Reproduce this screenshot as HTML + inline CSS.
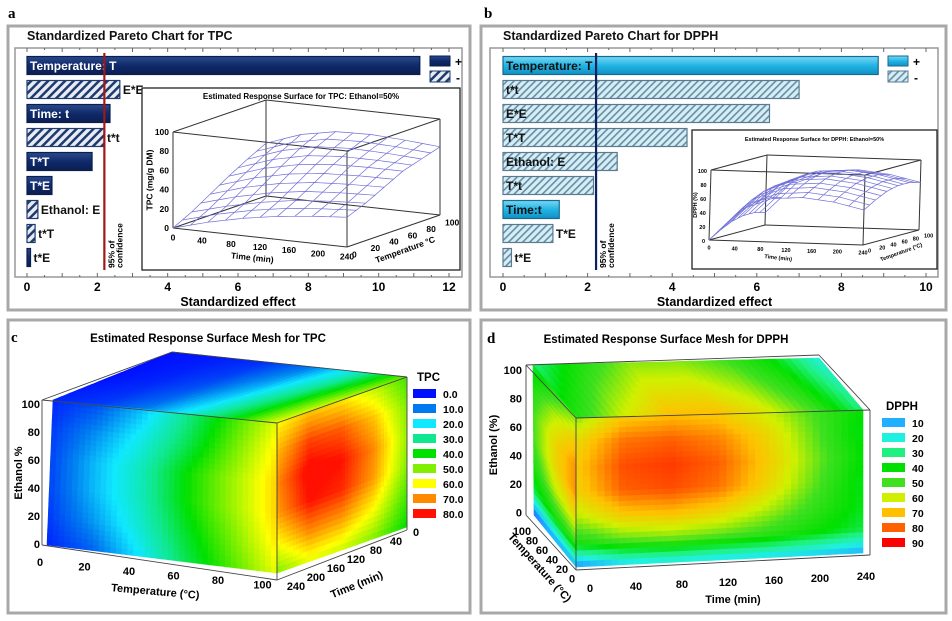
<!DOCTYPE html>
<html><head><meta charset="utf-8"><style>
html,body{margin:0;padding:0;background:#fff;}
svg{display:block;font-family:"Liberation Sans",sans-serif;}
</style></head><body>
<svg id="fig" width="952" height="621" viewBox="0 0 952 621" xmlns="http://www.w3.org/2000/svg">
<defs>
<pattern id="hatchA" width="6" height="6" patternUnits="userSpaceOnUse" patternTransform="rotate(45)"><rect width="6" height="6" fill="#e8ecf2"/><rect width="2.5" height="6" fill="#1e3a6e"/></pattern>
<pattern id="hatchB" width="5" height="5" patternUnits="userSpaceOnUse" patternTransform="rotate(45)"><rect width="5" height="5" fill="#d4eef8"/><rect width="1.6" height="5" fill="#6a8ca0"/></pattern>
<linearGradient id="navy" x1="0" y1="0" x2="0" y2="1"><stop offset="0" stop-color="#2a4a8c"/><stop offset="0.5" stop-color="#102a6a"/><stop offset="1" stop-color="#0a1e50"/></linearGradient>
<linearGradient id="cyan" x1="0" y1="0" x2="0" y2="1"><stop offset="0" stop-color="#7ad8f4"/><stop offset="0.5" stop-color="#22b4e4"/><stop offset="1" stop-color="#1090c4"/></linearGradient>
</defs>
<g>
<rect x="8" y="26" width="462" height="284" fill="#fff" stroke="#a8a8a8" stroke-width="3"/>
<rect x="481" y="26" width="465" height="284" fill="#fff" stroke="#a8a8a8" stroke-width="3"/>
<rect x="8" y="320" width="462" height="293" fill="#fff" stroke="#a8a8a8" stroke-width="3"/>
<rect x="481" y="320" width="465" height="293" fill="#fff" stroke="#a8a8a8" stroke-width="3"/>
</g>
<g font-family="Liberation Serif,serif" font-weight="bold" font-size="15" fill="#000">
<text x="8" y="18">a</text>
<text x="484" y="18">b</text>
<text x="11" y="342">c</text>
<text x="487" y="343">d</text>
</g>
<g id="gA"></g><g id="gB"></g><g id="gC"></g><g id="gD"></g>
</svg>
<script>
// ---- Pareto data ----
const paretoA_labels = ["Temperature: T","E*E","Time: t","t*t","T*T","T*E","Ethanol: E","t*T","t*E"];
const paretoA_values = [11.17,2.64,2.36,2.19,1.85,0.71,0.31,0.23,0.1];
const paretoA_signs  = ["+","-","+","-","+","+","-","-","+"];
const paretoA_ticks = [0,2,4,6,8,10,12];
const paretoA_conf = 2.2;
const paretoB_labels = ["Temperature: T","t*t","E*E","T*T","Ethanol: E","T*t","Time:t","T*E","t*E"];
const paretoB_values = [8.87,7.0,6.3,4.35,2.7,2.14,1.33,1.18,0.2];
const paretoB_signs  = ["+","-","-","-","-","-","+","-","-"];
const paretoB_ticks = [0,2,4,6,8,10];
const paretoB_conf = 2.2;
// ---- inset surfaces (rows: temperature 0..100, cols: time 0..240) ----
const insetTimes = [0,48,96,144,192,240];
const insetTemps = [0,20,40,60,80,100];
const insetA_z = [[0,10,18,24,28,31],[10,20,28,34,37,39],[22,33,41,46,48,49],[34,46,54,58,59,59],[45,58,66,68,67,65],[55,68,75,76,74,71]];
const insetB_z = [[0,45,62,65,60,50],[10,55,72,75,70,60],[18,62,80,83,78,68],[22,66,84,87,82,72],[22,66,84,87,82,72],[18,62,80,83,78,68]];
// ---- cube face values ----
const tpcLegend = [0,10,20,30,40,50,60,70,80];
const tpcColors = ["#0010ff","#0078f0","#10e8ff","#10e890","#00e000","#80f000","#ffff00","#ff8a00","#ff1000"];
const tpcTop = [[0,1,3,10,25,48],[0,2,6,16,32,55],[2,4,10,22,38,58]];
const tpcFront = [[2,6,16,30,44,58],[4,12,22,34,48,62],[5,16,26,40,52,64],[5,16,26,40,52,64],[4,13,24,37,49,62],[2,8,20,34,46,58]];
const tpcRight = [[60,65,62,55,45],[66,76,74,65,50],[70,82,80,70,52],[68,80,78,68,50],[60,70,68,60,45],[50,58,56,50,40]];
const dpphLegend = [0,10,20,30,40,50,60,70,80,90];
const dpphColors = ["#2030ff","#20b0ff","#20f0e0","#20f080","#00e000","#40e020","#d0f000","#ffc000","#ff6000","#ff0000"];
const dpphTop = [[30,45,55,55,50,40,20],[45,60,70,70,62,50,30]];
const dpphLeft = [[35,45,55],[45,58,68],[50,65,75],[50,65,75],[45,58,65],[35,45,50],[3,8,10]];
const dpphFront = [[55,68,70,68,60,50,40],[65,78,80,76,66,52,38],[68,82,84,80,68,54,40],[66,80,82,78,66,52,38],[58,68,70,66,58,48,38],[45,52,54,52,48,42,35],[5,15,18,16,16,14,10]];

const NS="http://www.w3.org/2000/svg";
function el(parent,tag,attrs,text){const e=document.createElementNS(NS,tag);for(const k in attrs)e.setAttribute(k,attrs[k]);if(text!==undefined)e.textContent=text;parent.appendChild(e);return e;}

function pareto(g,cfg){
  const {labels,values,signs,ticks,conf,x0,x1,vmax,plot,title,posFill,negFill,legX,lineColor,textInside,darkText}=cfg;
  const sx=v=>x0+(x1-x0)*v/vmax;
  let t=el(g,'text',{x:cfg.titleX,y:40,'font-size':'12.5','font-weight':'bold',fill:'#111'},title);
  
  let r=el(g,'rect',{x:plot[0],y:plot[1],width:plot[2]-plot[0],height:plot[3]-plot[1],fill:'none',stroke:'#999','stroke-width':1.5});
  
  for(let v=0;v<=vmax+1e-9;v+=0.5){const x=sx(v);const L=(Math.abs(v-Math.round(v))<1e-9)?4:2;
    el(g,'line',{x1:x,x2:x,y1:plot[3],y2:plot[3]-L,stroke:'#666'});el(g,'line',{x1:x,x2:x,y1:plot[1],y2:plot[1]+L,stroke:'#666'});}
  ticks.forEach(v=>{const tt=el(g,'text',{x:sx(v),y:291,'text-anchor':'middle','font-size':'12','font-weight':'bold'},String(v));
    });
  const xt=el(g,'text',{x:(x0+x1)/2,y:306,'text-anchor':'middle','font-size':'12.5','font-weight':'bold'},'Standardized effect');
  
  labels.forEach((lab,i)=>{
    const cy=65.5+i*24, h=18;
    const w=Math.max(sx(values[i])-x0,2);
    const b=el(g,'rect',{x:x0,y:cy-h/2,width:w,height:h,fill:signs[i]=='+'?posFill:negFill,stroke:signs[i]=='+'?cfg.posStroke:cfg.negStroke,'stroke-width':1.2});
    
    
    const inside=textInside[i];
    const tx=inside?x0+3:x0+w+3;
    const col=(inside&&signs[i]=='+'&&!darkText)?'#fff':'#111';
    const lt=el(g,'text',{x:tx,y:cy+4.5,'font-size':'12','font-weight':'bold',fill:col},lab);
    
  });
  const cx=sx(conf);
  const cl=el(g,'line',{x1:cx,x2:cx,y1:53,y2:270,stroke:lineColor,'stroke-width':2.2});
  
  const ct=el(g,'text',{transform:`translate(${cx+10},268) rotate(-90)`,'font-size':'8.5','font-weight':'bold'});
  el(ct,'tspan',{x:0,dy:0},'95% of');el(ct,'tspan',{x:0,dy:8},'confidence');
  
  const l1=el(g,'rect',{x:legX,y:56,width:20,height:10,fill:posFill,stroke:cfg.posStroke});
  
  const l2=el(g,'rect',{x:legX,y:71,width:20,height:11,fill:negFill,stroke:cfg.negStroke});
  
  el(g,'text',{x:legX+25,y:66,'font-size':'12','font-weight':'bold'},'+');
  el(g,'text',{x:legX+26,y:82,'font-size':'12','font-weight':'bold'},'-');
}
pareto(document.getElementById('gA'),{labels:paretoA_labels,values:paretoA_values,signs:paretoA_signs,ticks:paretoA_ticks,conf:paretoA_conf,
  x0:27,x1:449,vmax:12,plot:[15,48,462,277],title:'Standardized Pareto Chart for TPC',titleX:27,posFill:'url(#navy)',negFill:'url(#hatchA)',posStroke:'#0a1e50',negStroke:'#1e3a6e',
  legX:430,lineColor:'#a01818',textInside:[1,0,1,0,1,1,0,0,0]});
pareto(document.getElementById('gB'),{labels:paretoB_labels,values:paretoB_values,signs:paretoB_signs,ticks:paretoB_ticks,conf:paretoB_conf,
  x0:503,x1:926,vmax:10,plot:[490,48,938,277],title:'Standardized  Pareto  Chart  for  DPPH',titleX:503,posFill:'url(#cyan)',negFill:'url(#hatchB)',posStroke:'#1a6a90',negStroke:'#5a7a90',
  legX:888,lineColor:'#0a2060',textInside:[1,1,1,1,1,1,1,0,0],darkText:true});

// ---- insets ----
function inset(g,cfg){
  const {box,base,tv,Tv,zv,z,title,fs,color}=cfg;
  const r=el(g,'rect',{x:box[0],y:box[1],width:box[2]-box[0],height:box[3]-box[1],fill:'#fff',stroke:'#222','stroke-width':1.3});
  
  const tt=el(g,'text',{x:(box[0]+box[2])/2,y:box[1]+11,'text-anchor':'middle','font-size':fs,'font-weight':'bold'},title);
  
  const P=(t,T,zz)=>[base[0]+t/240*tv[0]+T/100*Tv[0]+zz/100*zv[0], base[1]+t/240*tv[1]+T/100*Tv[1]+zz/100*zv[1]];
  const ln=(a,b,c)=>el(g,'line',{x1:a[0],y1:a[1],x2:b[0],y2:b[1],stroke:c||'#333','stroke-width':1});
  const C=[[0,0],[240,0],[240,100],[0,100]];
  for(let i=0;i<4;i++){const a=C[i],b=C[(i+1)%4];ln(P(a[0],a[1],0),P(b[0],b[1],0));ln(P(a[0],a[1],100),P(b[0],b[1],100));ln(P(a[0],a[1],0),P(a[0],a[1],100));}
  // bilinear lookup on data grid for smooth mesh rendering
  const Z=(u,v)=>{const fx=u*(insetTimes.length-1),fy=v*(insetTemps.length-1);const j=Math.min(Math.floor(fx),insetTimes.length-2),i=Math.min(Math.floor(fy),insetTemps.length-2);
    const ax=fx-j,ay=fy-i;return (z[i][j]*(1-ax)+z[i][j+1]*ax)*(1-ay)+(z[i+1][j]*(1-ax)+z[i+1][j+1]*ax)*ay;};
  const N=10,S=30;
  for(let a=0;a<=N;a++){let d='';for(let b=0;b<=S;b++){const u=b/S,v=a/N;const p=P(u*240,v*100,Z(u,v));d+=(b?'L':'M')+p[0].toFixed(1)+','+p[1].toFixed(1);}
    const m=el(g,'path',{d,fill:'none',stroke:color,'stroke-width':0.7});}
  for(let a=0;a<=N;a++){let d='';for(let b=0;b<=S;b++){const u=a/N,v=b/S;const p=P(u*240,v*100,Z(u,v));d+=(b?'L':'M')+p[0].toFixed(1)+','+p[1].toFixed(1);}
    const m=el(g,'path',{d,fill:'none',stroke:color,'stroke-width':0.7});}
  const f=cfg.lfs;
  [0,20,40,60,80,100].forEach(v=>{const p=P(0,0,v);el(g,'text',{x:p[0]-4,y:p[1]+3,'text-anchor':'end','font-size':f,'font-weight':'bold'},String(v));});
  [0,40,80,120,160,200,240].forEach(v=>{const p=P(v,0,0);el(g,'text',{x:p[0],y:p[1]+f+4,'text-anchor':'middle','font-size':f,'font-weight':'bold'},String(v));});
  [0,20,40,60,80,100].forEach(v=>{const p=P(240,v,0);el(g,'text',{x:p[0]+5,y:p[1]+f+2,'font-size':f,'font-weight':'bold'},String(v));});
  const pt=P(120,0,0);el(g,'text',{transform:`translate(${pt[0]-8},${pt[1]+2*f+6}) rotate(6)`,'text-anchor':'middle','font-size':f,'font-weight':'bold'},'Time (min)');
  const pT=P(240,55,0);el(g,'text',{transform:`translate(${pT[0]+8},${pT[1]+2*f+6}) rotate(-20)`,'text-anchor':'middle','font-size':f,'font-weight':'bold'},cfg.tempLabel);
  const pz=P(0,0,50);el(g,'text',{transform:`translate(${pz[0]-f*2.4},${pz[1]}) rotate(-90)`,'text-anchor':'middle','font-size':f,'font-weight':'bold'},cfg.zLabel);
}
inset(document.getElementById('gA'),{box:[142,88,460,270],base:[173,228],tv:[174,19],Tv:[93,-32],zv:[0,-96],z:insetA_z,title:'Estimated Response Surface for TPC: Ethanol=50%',fs:8,lfs:8.5,color:'#7070d8',tempLabel:'Temperature °C',zLabel:'TPC (mg/g DM)'});
inset(document.getElementById('gB'),{box:[692,130,937,269],base:[709,240],tv:[154,5],Tv:[56,-15],zv:[2,-70],z:insetB_z,title:'Estimated Response Surface for DPPH: Ethanol=50%',fs:5.5,lfs:5.5,color:'#7070d8',tempLabel:'Temperature (°C)',zLabel:'DPPH (%)'});

// ---- cubes ----
function cmap(stops,cols,v){
  const hex=c=>[parseInt(c.slice(1,3),16),parseInt(c.slice(3,5),16),parseInt(c.slice(5,7),16)];
  if(v<=stops[0])return cols[0];if(v>=stops[stops.length-1])return cols[cols.length-1];
  for(let i=0;i<stops.length-1;i++){if(v<=stops[i+1]){const f=(v-stops[i])/(stops[i+1]-stops[i]);const a=hex(cols[i]),b=hex(cols[i+1]);
    return 'rgb('+a.map((x,k)=>Math.round(x+(b[k]-x)*f)).join(',')+')';}}
}
function face(g,corners,grid,stops,cols,name){
  const [TL,TR,BR,BL]=corners;const R=grid.length,Cn=grid[0].length;const NX=40,NY=28;
  const pos=(u,v)=>{const top=[TL[0]+(TR[0]-TL[0])*u,TL[1]+(TR[1]-TL[1])*u],bot=[BL[0]+(BR[0]-BL[0])*u,BL[1]+(BR[1]-BL[1])*u];return [top[0]+(bot[0]-top[0])*v,top[1]+(bot[1]-top[1])*v];};
  const val=(u,v)=>{const fx=u*(Cn-1),fy=v*(R-1);const i=Math.min(Math.floor(fy),R-2<0?0:R-2),j=Math.min(Math.floor(fx),Cn-2);const ay=fy-i,ax=fx-j;
    const g00=grid[i][j],g01=grid[i][j+1],g10=grid[i+1][j],g11=grid[i+1][j+1];return (g00*(1-ax)+g01*ax)*(1-ay)+(g10*(1-ax)+g11*ax)*ay;};
  const fg=el(g,'g',{});
  for(let a=0;a<NY;a++)for(let b=0;b<NX;b++){const u0=b/NX,u1=(b+1)/NX,v0=a/NY,v1=(a+1)/NY;
    const p=[pos(u0,v0),pos(u1,v0),pos(u1,v1),pos(u0,v1)];const c=cmap(stops,cols,val((u0+u1)/2,(v0+v1)/2));
    el(fg,'polygon',{points:p.map(q=>q[0].toFixed(1)+','+q[1].toFixed(1)).join(' '),fill:c,stroke:c,'stroke-width':0.6});}
}
function legend(g,x,y0,title,vals,cols,fs,fmt){
  const t=el(g,'text',{x:x+4,y:y0,'font-size':fs+1,'font-weight':'bold'},title);
  vals.forEach((v,i)=>{const y=y0+8+i*15;const r=el(g,'rect',{x:x,y:y,width:23,height:9,fill:cols[i]});
    const tx=el(g,'text',{x:x+30,y:y+9,'font-size':fs,'font-weight':'bold'},fmt(v));});
}
(function(){const g=document.getElementById('gC');
  const t=el(g,'text',{x:208,y:342,'text-anchor':'middle','font-size':'11.5','font-weight':'bold'},'Estimated Response Surface Mesh for TPC');
  face(g,[[172,352],[407,377],[277,423],[53,400]],tpcTop,tpcLegend,tpcColors,'top-face');
  face(g,[[53,400],[277,423],[277,573],[47,545]],tpcFront,tpcLegend,tpcColors,'front-face');
  face(g,[[277,423],[407,377],[407,527],[277,573]],tpcRight,tpcLegend,tpcColors,'right-face');
  const L=(a,b)=>el(g,'line',{x1:a[0],y1:a[1],x2:b[0],y2:b[1],stroke:'#444','stroke-width':0.9});
  L([42,400],[172,352]);L([172,352],[407,377]);L([42,400],[277,423]);L([277,423],[407,377]);L([277,423],[277,580]);L([42,400],[42,545]);L([42,545],[277,580]);L([277,580],[407,530]);L([407,377],[407,530]);
  [0,20,40,60,80,100].forEach((v,i)=>{el(g,'text',{x:40,y:548-i*28,'text-anchor':'end','font-size':'11','font-weight':'bold'},String(v));});
  el(g,'text',{transform:'translate(22,473) rotate(-90)','text-anchor':'middle','font-size':'11','font-weight':'bold'},'Ethanol %');
  [0,20,40,60,80,100].forEach((v,i)=>{el(g,'text',{x:40+i*44.5,y:566+i*4.5,'text-anchor':'middle','font-size':'11','font-weight':'bold'},String(v));});
  el(g,'text',{transform:'translate(155,595) rotate(5)','text-anchor':'middle','font-size':'11','font-weight':'bold'},'Temperature (°C)');
  [240,200,160,120,80,40,0].forEach((v,i)=>{el(g,'text',{x:296+i*20,y:590-i*9,'text-anchor':'middle','font-size':'11','font-weight':'bold'},String(v));});
  el(g,'text',{transform:'translate(358,588) rotate(-22)','text-anchor':'middle','font-size':'11','font-weight':'bold'},'Time (min)');
  legend(g,413,381,'TPC',tpcLegend,tpcColors,10.5,v=>v.toFixed(1));
})();
(function(){const g=document.getElementById('gD');
  const t=el(g,'text',{x:666,y:343,'text-anchor':'middle','font-size':'11.5','font-weight':'bold'},'Estimated Response Surface Mesh for DPPH');
  face(g,[[533,365],[819,358],[863,410],[576,418]],dpphTop,dpphLegend,dpphColors,'top-face');
  face(g,[[533,365],[576,418],[576,567],[534,515]],dpphLeft,dpphLegend,dpphColors,'left-face');
  face(g,[[576,418],[863,410],[863,553],[576,567]],dpphFront,dpphLegend,dpphColors,'front-face');
  const L=(a,b)=>el(g,'line',{x1:a[0],y1:a[1],x2:b[0],y2:b[1],stroke:'#444','stroke-width':0.9});
  L([526,365],[819,355]);L([819,355],[870,410]);L([576,418],[870,410]);L([526,365],[576,418]);L([576,418],[576,570]);L([526,365],[526,515]);L([526,515],[576,570]);L([576,570],[870,555]);L([870,410],[870,555]);
  [100,80,60,40,20,0].forEach((v,i)=>{el(g,'text',{x:522,y:374+i*28.5,'text-anchor':'end','font-size':'11','font-weight':'bold'},String(v));});
  el(g,'text',{transform:'translate(497,445) rotate(-90)','text-anchor':'middle','font-size':'11','font-weight':'bold'},'Ethanol (%)');
  [0,40,80,120,160,200,240].forEach((v,i)=>{el(g,'text',{x:590+i*46,y:592-i*2,'text-anchor':'middle','font-size':'11','font-weight':'bold'},String(v));});
  el(g,'text',{x:733,y:603,'text-anchor':'middle','font-size':'11','font-weight':'bold'},'Time (min)');
  [100,80,60,40,20,0].forEach((v,i)=>{el(g,'text',{x:522+i*10,y:535+i*9.5,'text-anchor':'middle','font-size':'11','font-weight':'bold'},String(v));});
  el(g,'text',{transform:'translate(537,570) rotate(48)','text-anchor':'middle','font-size':'11','font-weight':'bold'},'Temperature (°C)');
  legend(g,882,410,'DPPH',dpphLegend.slice(1),dpphColors.slice(1),10.5,v=>String(v));
})();
</script>
</body></html>
